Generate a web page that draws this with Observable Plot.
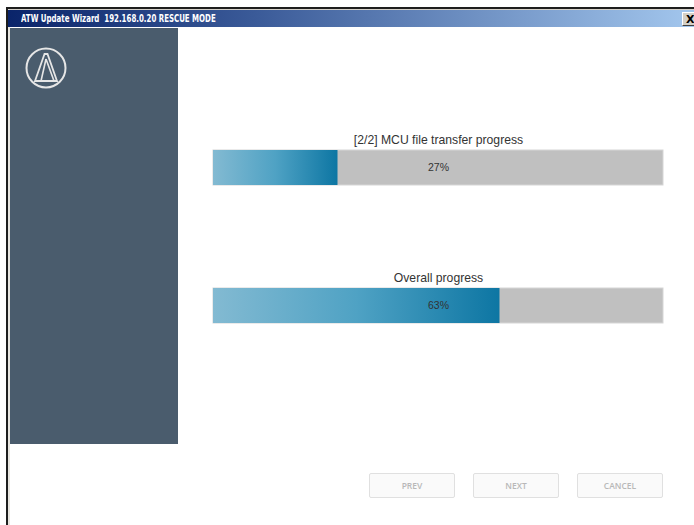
<!DOCTYPE html>
<html>
<head>
<meta charset="utf-8">
<script src="https://cdn.jsdelivr.net/npm/d3@7"></script>
<script src="https://cdn.jsdelivr.net/npm/@observablehq/plot@0.6"></script>
<style>
  html, body { margin: 0; padding: 0; background: #fff; }
  #win { position: relative; width: 694px; height: 525px; overflow: hidden; background: #fff; font-family: "Liberation Sans", Arial, sans-serif; }
  .frame { position: absolute; left: 6px; top: 7px; width: 720px; height: 560px; border-left: 2px solid #1e1e1e; border-top: 2px solid #1e1e1e; box-sizing: border-box; }
  .frame2 { position: absolute; left: 8px; top: 9px; width: 720px; height: 560px; border-left: 2px solid #e8e6e0; border-top: 1px solid #d4d0c8; box-sizing: border-box; }
  .titlebar { position: absolute; left: 8px; top: 10px; width: 700px; height: 17px; background: linear-gradient(to right, #0a246a 0%, #3a5a98 35%, #a6caf0 100%); }
  .titletext { position: absolute; left: 21px; top: 11px; color: #fff; font-family: "DejaVu Sans Condensed", "DejaVu Sans", sans-serif; font-weight: bold; font-size: 11px; line-height: 15px; white-space: pre; transform: scaleX(0.71); transform-origin: 0 0; }
  .closebtn { position: absolute; left: 682px; top: 12px; width: 16px; height: 14px; background: #d4d0c8; border-top: 1px solid #fff; border-left: 1px solid #fff; border-bottom: 1px solid #404040; font: bold 11px "DejaVu Sans", sans-serif; line-height: 13px; color: #000; padding-left: 3px; box-sizing: border-box; }
  .panel { position: absolute; left: 10px; top: 28px; width: 168px; height: 416px; background: #4a5c6d; }
  .logo { position: absolute; left: 24px; top: 46px; }
  .btn { position: absolute; top: 473px; width: 86px; height: 25px; background: #fafafa; border: 1px solid #e0e0e0; border-radius: 2px; box-sizing: border-box; color: #b8b8b8; font-family: "Open Sans", sans-serif; font-size: 8.5px; font-weight: 600; text-align: center; line-height: 23px; }
  #chart { position: absolute; left: 0; top: 0; }
</style>
</head>
<body>
<div id="win">
  <div class="frame"></div>
  <div class="frame2"></div>
  <div class="titlebar"></div>
  <div class="titletext">ATW Update Wizard  192.168.0.20 RESCUE MODE</div>
  <div class="closebtn">X</div>
  <div class="panel"></div>
  <svg class="logo" width="44" height="44" viewBox="0 0 44 44">
    <circle cx="22" cy="22" r="19.5" fill="none" stroke="#e6e6e6" stroke-width="2"/>
    <path d="M20.5 8 L11 35 L33 35 L23.5 8 Z" fill="none" stroke="#e6e6e6" stroke-width="1.8" stroke-linejoin="miter"/>
    <path d="M22 13 L17 35 M22 13 L30 35" fill="none" stroke="#e6e6e6" stroke-width="1.6"/>
  </svg>
  <div class="btn" style="left:369px">PREV</div>
  <div class="btn" style="left:473px">NEXT</div>
  <div class="btn" style="left:577px">CANCEL</div>
  <div id="chart"></div>
</div>
<script>
const progressLabels = ["[2/2] MCU file transfer progress", "Overall progress"];
const progressValues = [27, 63];
const progressTotal = 100;

const rows = progressLabels.map((label, i) => ({label, value: progressValues[i], total: progressTotal}));

const chart = Plot.plot({
  width: 694,
  height: 525,
  marginLeft: 213,
  marginRight: 31,
  marginTop: 149,
  marginBottom: 202,
  style: {background: "transparent", fontFamily: "'Liberation Sans', Arial, sans-serif"},
  x: {domain: [0, progressTotal], axis: null},
  y: {domain: progressLabels, axis: null, paddingInner: 0.748, paddingOuter: 0},
  marks: [
    Plot.barX(rows, {x1: 0, x2: "total", y: "label", fill: "#c0c0c0", stroke: "#d6d6d6", strokeWidth: 1, inset: 0}),
    Plot.barX(rows, {x1: 0, x2: "value", y: "label", fill: "url(#progressGrad)", insetLeft: 0, insetTop: 0, insetBottom: 0, insetRight: -3}),
    Plot.text(rows, {x: progressTotal / 2, y: "label", text: d => d.value + "%", fill: "#333", fontSize: 10.5}),
    Plot.text(rows, {x: progressTotal / 2, y: "label", text: "label", dy: -28, fill: "#333", fontSize: 12.2})
  ]
});

const defs = d3.select(chart).insert("defs", ":first-child");
const g = defs.append("linearGradient").attr("id", "progressGrad").attr("x1", "0").attr("x2", "1").attr("y1", "0").attr("y2", "0");
g.append("stop").attr("offset", "0").attr("stop-color", "#83bad2");
g.append("stop").attr("offset", "0.5").attr("stop-color", "#4fa2c4");
g.append("stop").attr("offset", "1").attr("stop-color", "#0d76a3");

document.getElementById("chart").appendChild(chart);
</script>
</body>
</html>
